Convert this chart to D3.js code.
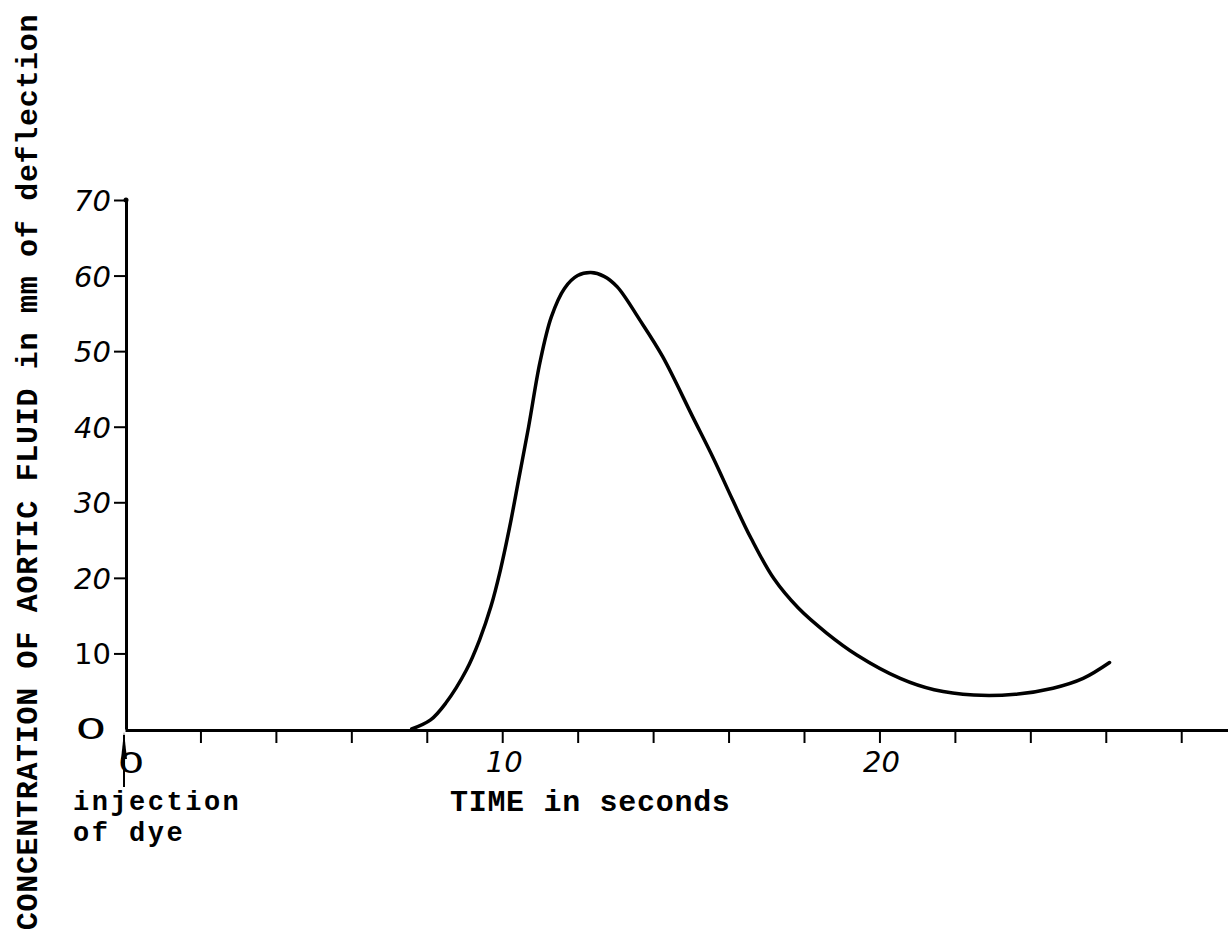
<!DOCTYPE html>
<html>
<head>
<meta charset="utf-8">
<script src="https://cdn.jsdelivr.net/npm/d3@7"></script>
<style>
  html, body { margin: 0; padding: 0; background: #fff; }
  svg { display: block; }
  .mono { font-family: "Liberation Mono", "Courier New", monospace; font-weight: bold; font-size: 30px; letter-spacing: 0.7px; fill: #000; }
  .mono.small { font-size: 27px; letter-spacing: 2.5px; }
  .hand { font-family: "DejaVu Sans", sans-serif; font-size: 29px; fill: #000; }
</style>
</head>
<body>
<script>
// ---- data ----
const timeSec = [7.6, 8.1, 8.5, 9.05, 9.4, 9.7, 9.95, 10.2, 10.45, 10.7, 11.0, 11.3, 11.65, 12.0, 12.35, 12.7, 13.05, 13.65, 14.25, 15.05, 15.6, 16.1, 16.6, 17.2, 17.85, 18.6, 19.4, 20.55, 21.45, 22.5, 23.6, 24.6, 25.4, 26.1];
const concentration = [0, 1.2, 3.4, 7.8, 11.8, 16.2, 21, 26.8, 33.4, 40, 48.5, 54.5, 58.3, 60.0, 60.4, 59.9, 58.5, 54.1, 49.3, 41.3, 35.8, 30.4, 25.2, 19.9, 16.0, 12.7, 9.8, 6.7, 5.2, 4.5, 4.6, 5.4, 6.7, 8.8];
const yTickValues = [10, 20, 30, 40, 50, 60, 70];
const yTickLabels = ["0", "10", "20", "30", "40", "50", "60", "70"];
const yLabelValues = [0, 10, 20, 30, 40, 50, 60, 70];
const xTickValues = [2, 4, 6, 8, 10, 12, 14, 16, 18, 20, 22, 24, 26, 28];
const xLabelValues = [0, 10, 20];
const xLabelTexts = ["0", "10", "20"];
const yTitle = "CONCENTRATION OF AORTIC FLUID in mm of deflection";
const xTitle = "TIME in seconds";
const markerLines = ["injection", "of dye"];

const W = 1228, H = 940;
const svg = d3.select("body").append("svg").attr("width", W).attr("height", H);

const x = d3.scaleLinear().domain([0, 29.24]).range([125, 1228]);
const y = d3.scaleLinear().domain([0, 70]).range([729, 200]);

// x axis
const xAxis = svg.append("g")
  .attr("transform", `translate(0,${y(0) + 1})`)
  .call(d3.axisBottom(x).tickValues(xTickValues).tickSize(13).tickSizeOuter(0).tickFormat(""));
xAxis.select(".domain").attr("stroke", "#000").attr("stroke-width", 3);
xAxis.selectAll(".tick line").attr("stroke", "#000").attr("stroke-width", 2);

// y axis
const yAxis = svg.append("g")
  .attr("transform", `translate(${x(0) + 1},0)`)
  .call(d3.axisLeft(y).tickValues(yTickValues).tickSize(12).tickSizeOuter(0).tickFormat(""));
yAxis.select(".domain").attr("stroke", "#000").attr("stroke-width", 3);
yAxis.selectAll(".tick line").attr("stroke", "#000").attr("stroke-width", 2);
svg.append("circle").attr("cx", x(0) + 1).attr("cy", y(70)).attr("r", 2.5).attr("fill", "#000");

// y tick labels
yLabelValues.forEach((v, i) => {
  const t = svg.append("text").attr("class", "hand")
    .attr("text-anchor", "end")
    .attr("x", 111)
    .attr("y", y(v) + 11)
    .style("font-style", v === 10 || v === 0 ? "normal" : "italic")
    .text(yTickLabels[i]);
  if (v === 0) {
    t.attr("x", 0).attr("y", 0).attr("text-anchor", "middle")
     .attr("transform", `translate(91,${y(0) + 10}) scale(1.7,1.0)`);
  }
});

// x tick labels
xLabelValues.forEach((v, i) => {
  if (v === 0) {
    svg.append("text").attr("class", "hand")
      .attr("text-anchor", "middle")
      .attr("transform", `translate(${x(0) + 6},${y(0) + 44}) scale(1.45,1.0)`)
      .text(xLabelTexts[i]);
  } else {
    svg.append("text").attr("class", "hand")
      .attr("text-anchor", "middle")
      .style("font-style", "italic")
      .attr("x", x(v) + 2)
      .attr("y", y(0) + 43)
      .text(xLabelTexts[i]);
  }
});

// injection arrow at time 0
svg.append("line").attr("x1", x(0) - 1).attr("x2", x(0) - 1)
  .attr("y1", y(0) + 58).attr("y2", y(0) + 6)
  .attr("stroke", "#000").attr("stroke-width", 2);
svg.append("path")
  .attr("d", `M${x(0) - 1},${y(0) + 3} L${x(0) - 4},${y(0) + 30} L${x(0) + 2},${y(0) + 30} Z`)
  .attr("fill", "#000");

// curve
const pts = timeSec.map((t, i) => [t, concentration[i]]);
const line = d3.line().x(d => x(d[0])).y(d => y(d[1])).curve(d3.curveCatmullRom.alpha(0.5));
svg.append("path").datum(pts)
  .attr("d", line)
  .attr("fill", "none")
  .attr("stroke", "#000")
  .attr("stroke-width", 3.5)
  .attr("stroke-linecap", "round")
  .attr("stroke-linejoin", "round");

// titles
svg.append("text").attr("class", "mono")
  .attr("x", 450).attr("y", 811)
  .text(xTitle);
markerLines.forEach((s, i) => {
  svg.append("text").attr("class", "mono small")
    .attr("x", 73).attr("y", 810 + i * 31)
    .text(s);
});
svg.append("text").attr("class", "mono")
  .attr("text-anchor", "middle")
  .attr("transform", `translate(37,${472}) rotate(-90)`)
  .text(yTitle);
</script>
</body>
</html>
